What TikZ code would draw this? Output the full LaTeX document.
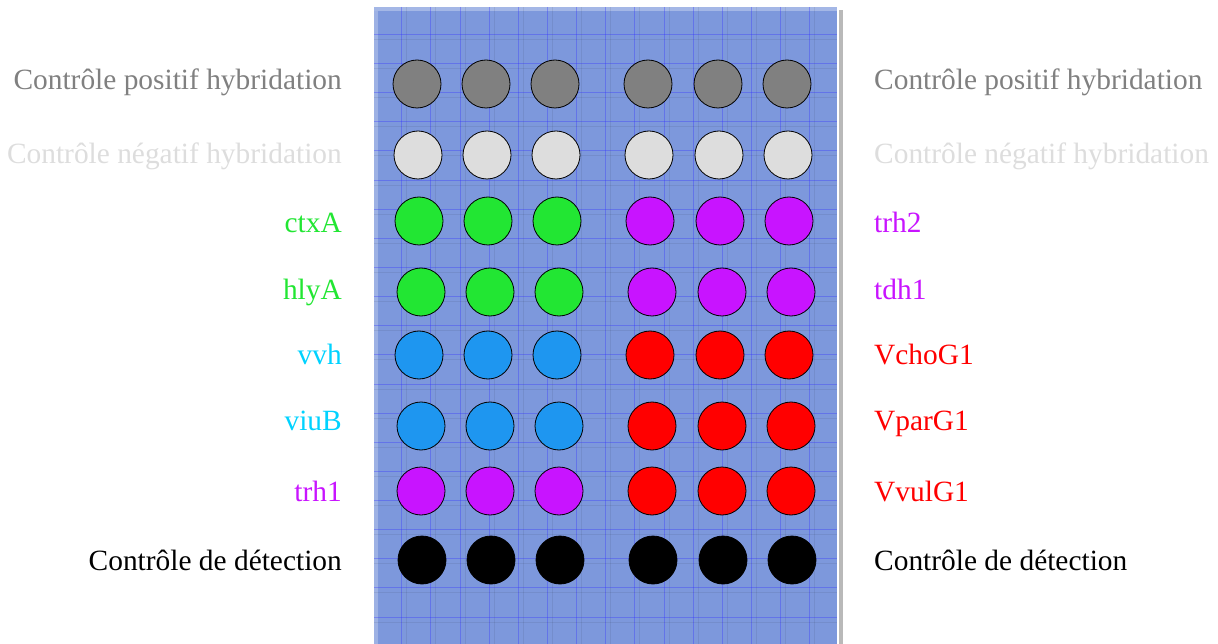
\documentclass[tikz,border=0pt]{standalone}
\usepackage{fontspec}
\setmainfont{Liberation Serif}
\definecolor{gris}{HTML}{808080}
\definecolor{grisclair}{HTML}{DDDDDD}
\definecolor{vert}{HTML}{22E633}
\definecolor{mauve}{HTML}{C814FF}
\definecolor{bleu}{HTML}{1E96F0}
\definecolor{cyantxt}{HTML}{00D2FF}
\definecolor{rouge}{HTML}{FF0000}
\definecolor{fond}{HTML}{7D98DC}
\begin{document}
\begin{tikzpicture}[x=1pt, y=-1pt,
    spot/.style={circle, draw=black, thick, minimum size=48pt, inner sep=0pt},
    lab/.style={font=\fontsize{29.4}{34}\selectfont, inner sep=0pt}]
\useasboundingbox (0,0) rectangle (1218,644);
% the slide
\fill[fond] (374,7) rectangle (837,644);
\fill[white, opacity=.3] (374,7) rectangle (837,11);
\fill[white, opacity=.25] (374,11) rectangle (378,644);
\fill[gray!55] (839,10) rectangle (843,644);
\foreach \i in {0,...,14}
{
    \draw[blue!80!white, opacity=.35, line width=.7pt] ({401.7+29.13*\i},7)--({401.7+29.13*\i},644);
    \draw[black, opacity=.07, line width=.7pt] ({406.7+29.13*\i},7)--({406.7+29.13*\i},644);
}
\foreach \j in {0,...,20}
{
    \draw[blue!80!white, opacity=.35, line width=.7pt] (374,{34.3+29.13*\j})--(837,{34.3+29.13*\j});
    \draw[black, opacity=.07, line width=.7pt] (374,{39.3+29.13*\j})--(837,{39.3+29.13*\j});
}

% spots
\foreach \y/\dx/\cl/\cr [count=\r] in {84/-2/gris/gris, 155/-1/grisclair/grisclair, 221/0/vert/mauve, 292/2/vert/mauve,
    355/0/bleu/rouge, 426/2/bleu/rouge, 491/2/mauve/rouge, 560/3/black/black}
{
    \foreach \x [count=\c] in {419,488,557}
        \node[spot, fill=\cl] (s\r-\c) at (\x+\dx,\y) {};
    \foreach \x [count=\c from 4] in {650,720,789}
        \node[spot, fill=\cr] (s\r-\c) at (\x+\dx,\y) {};
}

% labels
\foreach \y/\cl/\tl [count=\r] in {90/gris/Contrôle positif hybridation, 164/grisclair/Contrôle négatif hybridation,
    233/vert/ctxA, 300/vert/hlyA, 364/cyantxt/vvh, 430/cyantxt/viuB, 501/mauve/trh1, 570/black/Contrôle de détection}
{
    \node[lab, anchor=base east, text=\cl] (gauche\r) at (342,\y) {\tl};
}
\foreach \y/\cr/\tr [count=\r] in {90/gris/Contrôle positif hybridation, 164/grisclair/Contrôle négatif hybridation,
    233/mauve/trh2, 300/mauve/tdh1, 364/rouge/VchoG1, 430/rouge/VparG1, 501/rouge/VvulG1, 570/black/Contrôle de détection}
{
    \node[lab, anchor=base west, text=\cr] (droite\r) at (874,\y) {\tr};
}
\end{tikzpicture}
\end{document}
